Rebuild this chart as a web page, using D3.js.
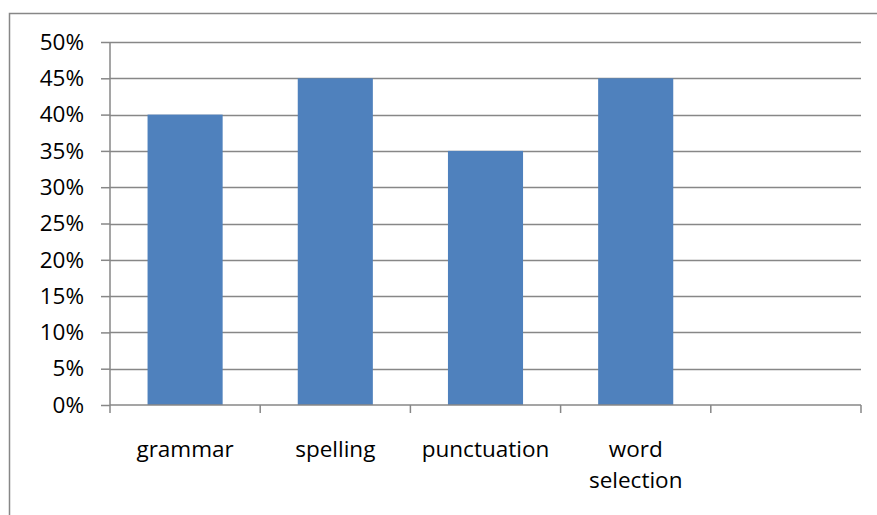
<!DOCTYPE html>
<html>
<head>
<meta charset="utf-8">
<script src="https://cdn.jsdelivr.net/npm/d3@7"></script>
<style>
  html, body { margin: 0; padding: 0; background: #fff; }
  svg { display: block; }
  text { font-family: "Open Sans", sans-serif; fill: #000; }
</style>
</head>
<body>
<svg id="chart" width="877" height="515"></svg>
<script>
// Categories along the x axis (the last slot is left empty)
const categories = ["grammar", "spelling", "punctuation", "word selection", ""];
// Share of responses per category
const values = [0.40, 0.45, 0.35, 0.45, null];
// Y axis tick values
const yTicks = [0, 0.05, 0.10, 0.15, 0.20, 0.25, 0.30, 0.35, 0.40, 0.45, 0.50];

const svg = d3.select("#chart");
const W = 877, H = 515;
const plot = { left: 110, right: 861, top: 42, bottom: 405 };
const FONT = "22.5px";

// Outer chart frame (extends past the right and bottom edges)
svg.append("rect")
  .attr("x", 9.5).attr("y", 13.5)
  .attr("width", W + 20).attr("height", H + 20)
  .attr("fill", "#fff").attr("stroke", "#878787").attr("stroke-width", 1.5);

const x = d3.scaleBand().domain(d3.range(categories.length))
  .range([plot.left, plot.right]).paddingInner(0).paddingOuter(0);
const y = d3.scaleLinear().domain([0, 0.5]).range([plot.bottom, plot.top]);

// Horizontal gridlines
svg.append("g").selectAll("line").data(yTicks.slice(1)).join("line")
  .attr("x1", plot.left).attr("x2", plot.right)
  .attr("y1", d => Math.round(y(d)) + 0.5).attr("y2", d => Math.round(y(d)) + 0.5)
  .attr("stroke", "#878787").attr("stroke-width", 1.5);

// Bars
const data = categories.map((c, i) => ({ c, v: values[i], i })).filter(d => d.v != null);
svg.append("g").selectAll("rect").data(data).join("rect")
  .attr("x", d => x(d.i) + x.bandwidth() * 0.25)
  .attr("width", x.bandwidth() * 0.5)
  .attr("y", d => y(d.v))
  .attr("height", d => y(0) - y(d.v))
  .attr("fill", "#4F81BD");

// Y axis
const yAxis = d3.axisLeft(y).tickValues(yTicks).tickSize(9).tickPadding(17)
  .tickFormat(d3.format(".0%"));
const gy = svg.append("g").attr("transform", `translate(${plot.left},0)`).call(yAxis);
gy.select(".domain").attr("stroke", "#878787").attr("stroke-width", 1.5).attr("d", `M0,${plot.top}V${plot.bottom}`);
gy.selectAll(".tick line").attr("stroke", "#878787").attr("stroke-width", 1.5);
gy.selectAll(".tick text").style("font-size", FONT).attr("fill", "#000")
  .style("font-family", "'Open Sans', sans-serif");

// X axis: boundary ticks between category slots
const boundaries = d3.range(categories.length + 1).map(i => plot.left + i * x.step());
const gx = svg.append("g");
gx.append("line").attr("x1", plot.left).attr("x2", plot.right)
  .attr("y1", y(0)).attr("y2", y(0)).attr("stroke", "#878787").attr("stroke-width", 1.5);
gx.selectAll("line.tk").data(boundaries).join("line").attr("class", "tk")
  .attr("x1", d => d).attr("x2", d => d)
  .attr("y1", y(0)).attr("y2", y(0) + 8)
  .attr("stroke", "#878787").attr("stroke-width", 1.5);

// Category labels, wrapped onto two lines where needed
const labels = gx.selectAll("text.cat").data(categories).join("text").attr("class", "cat")
  .attr("text-anchor", "middle")
  .attr("x", (d, i) => x(i) + x.bandwidth() / 2)
  .attr("y", 457)
  .style("font-size", FONT);
labels.each(function(d) {
  const words = d === "word selection" ? ["word", "selection"] : [d];
  const t = d3.select(this);
  words.forEach((w, k) => {
    t.append("tspan").attr("x", t.attr("x")).attr("dy", k === 0 ? 0 : 31).text(w);
  });
});
</script>
</body>
</html>
